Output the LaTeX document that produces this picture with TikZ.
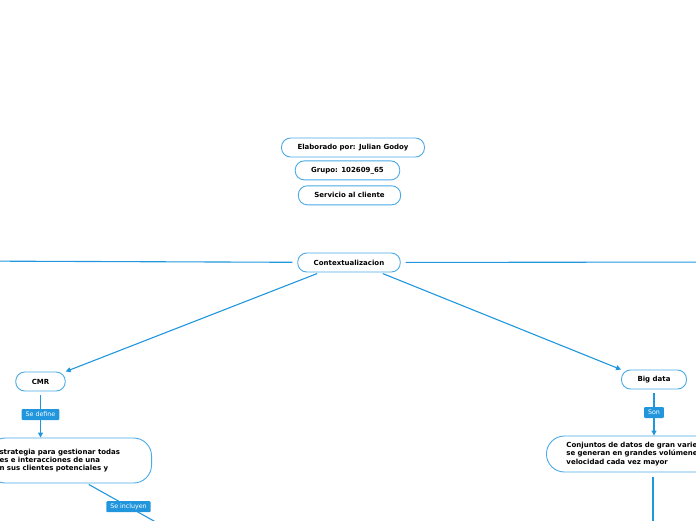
\documentclass[tikz,border=0pt]{standalone}
\usepackage{fontspec}
\setmainfont{DejaVu Sans}
\usetikzlibrary{arrows.meta,positioning}
\definecolor{mmline}{RGB}{33,150,221}
\definecolor{mmborder}{RGB}{74,170,232}

\tikzset{
  topic/.style={draw=mmborder, line width=0.9pt, fill=white, rounded corners=9pt,
    inner xsep=16pt, minimum height=19pt, font=\fontsize{7}{8}\selectfont\bfseries},
  desc/.style={draw=mmborder, line width=0.9pt, fill=white, rounded corners=18pt,
    align=left, font=\fontsize{7}{8.3}\selectfont\bfseries},
  lbl/.style={fill=mmline, text=white, rounded corners=1pt, inner xsep=4pt,
    inner ysep=0pt, minimum height=11pt, font=\fontsize{6.3}{7}\selectfont},
  conn/.style={draw=mmline, line width=1.1pt},
  arr/.style={conn, -{Triangle[length=5pt,width=5pt]}}
}

\begin{document}
\begin{tikzpicture}[x=1pt,y=-1pt]
\useasboundingbox (0,0) rectangle (696,520);
\clip (0,0) rectangle (696,520);

% header
\node[topic] (elab) at (353,147.5) {Elaborado por: Julian Godoy};
\node[topic] (grupo) [below=3pt of elab, xshift=-5.5pt] {Grupo: 102609\_65};
\node[topic] (serv) [below=5pt of grupo, xshift=2pt] {Servicio al cliente};

% centre
\node[topic] (ctx) at (349,262.5) {Contextualizacion};
\coordinate (offL) at (-40,261);
\coordinate (offR) at (736,262);

% branches
\node[topic] (cmr) at (40.5,381.5) {CMR};
\node[topic] (bigd) at (654,379.5) {Big data};

\node[desc, text width=140pt, inner xsep=12pt, minimum height=45pt, anchor=east]
  (cmrdesc) at (152,460.5)
  {strategia para gestionar todas\\es e interacciones de una\\n sus clientes potenciales y};
\node[desc, text width=160pt, inner xsep=20pt, minimum height=36pt, anchor=west]
  (bigdesc) at (546,454)
  {Conjuntos de datos de gran varie\\se generan en grandes volúmene\\velocidad cada vez mayor};

\coordinate (offC) at (170,530);
\coordinate (offB) at (653,530);

\path[conn, shorten <=5pt]
  (ctx) edge (offL)
        edge (offR);
\draw[arr, shorten <=3pt] ([xshift=-29pt]ctx.south) -- (cmr.north east);
\draw[arr, shorten <=3pt] ([xshift=31pt]ctx.south) -- (bigd.north west);

\draw[arr, shorten <=4pt] (cmr) -- node[lbl] {Se define} (cmrdesc.north -| cmr);
\draw[arr, shorten <=4pt] (bigd) -- node[lbl] {Son} (bigdesc.north -| bigd);

\draw[conn, shorten <=2pt] ([xshift=-65pt]cmrdesc.south east) -- node[lbl] {Se incluyen} (offC);
\draw[conn, shorten <=5pt] ([xshift=107pt]bigdesc.south west) -- (offB);
\end{tikzpicture}
\end{document}
